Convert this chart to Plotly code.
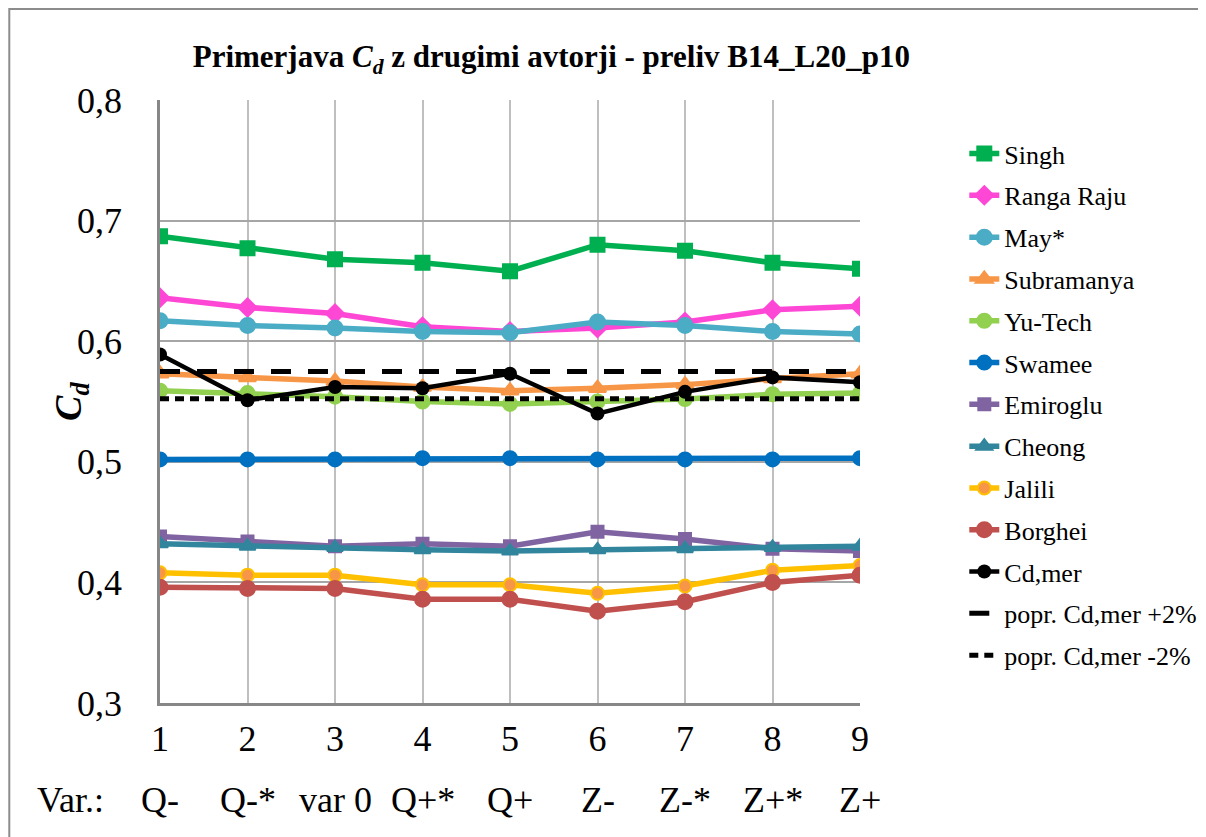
import plotly.graph_objects as go

# variants on the x axis
x_pos = [1, 2, 3, 4, 5, 6, 7, 8, 9]
var_labels = ["Q-", "Q-*", "var 0", "Q+*", "Q+", "Z-", "Z-*", "Z+*", "Z+"]

# Cd by author
singh = [0.687, 0.677, 0.668, 0.665, 0.658, 0.680, 0.675, 0.665, 0.660]
ranga_raju = [0.636, 0.628, 0.623, 0.612, 0.608, 0.611, 0.616, 0.626, 0.629]
may = [0.617, 0.613, 0.611, 0.608, 0.607, 0.616, 0.613, 0.608, 0.606]
subramanya = [0.573, 0.570, 0.567, 0.562, 0.559, 0.561, 0.564, 0.569, 0.573]
yu_tech = [0.559, 0.557, 0.554, 0.550, 0.548, 0.550, 0.552, 0.556, 0.557]
swamee = [0.502, 0.502, 0.502, 0.503, 0.503, 0.502, 0.502, 0.502, 0.503]
emiroglu = [0.438, 0.434, 0.430, 0.432, 0.430, 0.442, 0.436, 0.428, 0.426]
cheong = [0.432, 0.430, 0.429, 0.427, 0.426, 0.427, 0.428, 0.429, 0.430]
jalili = [0.408, 0.406, 0.406, 0.398, 0.398, 0.391, 0.397, 0.410, 0.414]
borghei = [0.396, 0.395, 0.395, 0.386, 0.386, 0.376, 0.384, 0.400, 0.406]
cd_mer = [0.589, 0.551, 0.562, 0.561, 0.573, 0.540, 0.558, 0.570, 0.566]
cd_mer_plus2 = [0.5748] * 9
cd_mer_minus2 = [0.5522] * 9

series = [
    ("Singh", singh, "#00B050", "square", "#00B050", 14),
    ("Ranga Raju", ranga_raju, "#FF47D6", "diamond", "#FF47D6", 14),
    ("May*", may, "#4BACC6", "circle", "#4BACC6", 15),
    ("Subramanya", subramanya, "#F79646", "triangle-up", "#F79646", 15),
    ("Yu-Tech", yu_tech, "#92D050", "circle", "#92D050", 14),
    ("Swamee", swamee, "#0070C0", "circle", "#0070C0", 14),
    ("Emiroglu", emiroglu, "#8064A2", "square", "#8064A2", 12),
    ("Cheong", cheong, "#31859C", "triangle-up", "#31859C", 14),
    ("Jalili", jalili, "#FFC000", "circle", "#F79646", 13),
    ("Borghei", borghei, "#C0504D", "circle", "#C0504D", 15),
]

fig = go.Figure()

for i, (name, vals, col, sym, fill, size) in enumerate(series):
    fig.add_trace(go.Scatter(
        x=x_pos, y=vals, name=name, mode="lines+markers",
        line=dict(color=col, width=5.5),
        marker=dict(symbol=sym, size=size, color=fill,
                    line=dict(color=col, width=2)),
        legendgroup="g%d" % i,
    ))

fig.add_trace(go.Scatter(
    x=x_pos, y=cd_mer, name="Cd,mer", mode="lines+markers",
    line=dict(color="black", width=4.5),
    marker=dict(symbol="circle", size=14, color="black"),
    legendgroup="g10",
))
fig.add_trace(go.Scatter(
    x=x_pos, y=cd_mer_plus2, name="popr. Cd,mer +2%", mode="lines",
    line=dict(color="black", width=5, dash="20px,17px"),
    legendgroup="g11",
))
fig.add_trace(go.Scatter(
    x=x_pos, y=cd_mer_minus2, name="popr. Cd,mer -2%", mode="lines",
    line=dict(color="black", width=5, dash="9px,6px"),
    legendgroup="g12",
))

# second row of x labels: variant names
for xv, lab in zip(x_pos, var_labels):
    fig.add_annotation(x=xv, y=-0.161, xref="x", yref="paper", text=lab,
                       xanchor="center", yanchor="middle",
                       showarrow=False, font=dict(size=36, color="black"))
fig.add_annotation(x=-0.1275, y=-0.161, xref="paper", yref="paper", text="Var.:",
                   xanchor="center", yanchor="middle",
                   showarrow=False, font=dict(size=36, color="black"))

# y axis title
fig.add_annotation(x=-0.128, y=0.5, xref="paper", yref="paper",
                   text="<b><i>C<sub>d</sub></i></b>", textangle=-90,
                   xanchor="center", yanchor="middle",
                   showarrow=False, font=dict(size=38, color="black"))

# chart outer border
fig.add_shape(type="rect", xref="paper", yref="paper",
              x0=-0.2153, x1=1.6, y0=-0.6, y1=1.151,
              line=dict(color="#8C8C8C", width=2))

fig.update_layout(
    width=1206, height=837,
    margin=dict(l=152, r=348, t=92, b=142),
    paper_bgcolor="white", plot_bgcolor="white",
    font=dict(family="Liberation Serif", color="black"),
    separators=", ",
    title=dict(text="<b>Primerjava <i>C<sub>d</sub></i> z drugimi avtorji - preliv B14_L20_p10</b>",
               x=0.559, xref="paper", xanchor="center", y=0.942, yanchor="middle",
               font=dict(size=31, color="black")),
    showlegend=True,
    legend=dict(x=1.149, y=0.950, xanchor="left", yanchor="top",
                font=dict(size=26, color="black"), traceorder="grouped",
                tracegroupgap=5, bgcolor="rgba(0,0,0,0)"),
)

fig.update_xaxes(range=[1, 9], tickvals=x_pos, ticktext=[str(v) for v in x_pos],
                 showgrid=True, gridcolor="#BFBFBF", gridwidth=2,
                 showline=True, linecolor="#878787", linewidth=2.5,
                 zeroline=False, ticks="", ticklabelstandoff=2,
                 tickfont=dict(size=36, color="black"))
fig.update_yaxes(range=[0.3, 0.8], dtick=0.1, tickformat=".1f",
                 showgrid=True, gridcolor="#A6A6A6", gridwidth=2,
                 showline=True, linecolor="#878787", linewidth=2.5,
                 zeroline=False, ticks="", ticklabelstandoff=28,
                 tickfont=dict(size=36, color="black"))

fig.write_html("out.html")
